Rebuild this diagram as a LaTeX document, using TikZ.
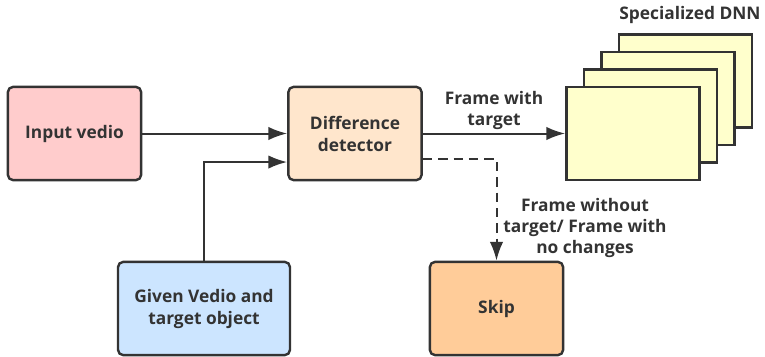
\documentclass[tikz,border=0pt]{standalone}
\usepackage{fontspec}
\setmainfont{Open Sans}
\usetikzlibrary{arrows.meta}
\usetikzlibrary{calc}

\definecolor{linegray}{HTML}{333333}
\definecolor{pinkfill}{HTML}{FFCCCC}
\definecolor{peachfill}{HTML}{FFE6CC}
\definecolor{yellowfill}{HTML}{FFFFCC}
\definecolor{bluefill}{HTML}{CCE5FF}
\definecolor{orangefill}{HTML}{FFCC99}

\tikzset{
	box/.style={draw=linegray,line width=1.8pt,rounded corners=4pt,minimum width=100pt,minimum height=70pt,align=center,text=linegray},
	dnnbox/.style={draw=linegray,line width=1.8pt,fill=yellowfill,minimum width=100pt,minimum height=70pt},
	lbl/.style={text=linegray,align=center,font=\fontsize{13}{16}\selectfont\bfseries}
}

\begin{document}
\begin{tikzpicture}[x=0.75pt,y=-0.75pt,>/.tip={Latex[length=14pt,width=10pt]},font=\fontsize{13}{16.5}\selectfont\bfseries]
	\useasboundingbox (0,0) rectangle (765,357);

	\draw (74.5,133.5) node (input) [box,fill=pinkfill] {Input vedio};
	\draw (355,133.5) node (diff) [box,fill=peachfill] {Difference\\detector};
	\draw (204,308.5) node (given) [box,fill=bluefill,minimum width=129pt] {Given Vedio and\\target object};
	\draw (496.5,308.5) node (skip) [box,fill=orangefill] {Skip};

	% stacked DNN frames, back to front
	\draw (685.5,81) node (dnn3) [dnnbox] {};
	\draw (668,98.5) node (dnn2) [dnnbox] {};
	\draw (650.5,116) node (dnn1) [dnnbox] {};
	\draw (633,133.5) node (dnn) [dnnbox] {};
	\node [lbl] at (690,15) {Specialized DNN};

	\draw[->,line width=1.5pt,linegray] (input) -- (diff);
	\draw[->,line width=1.5pt,linegray] (given.north) |- ([yshift=-21.4pt]diff.west);
	\draw[->,line width=1.5pt,linegray] (diff) -- node [lbl,above,inner sep=2pt] {Frame with\\target} (dnn);
	\draw[->,line width=1.5pt,linegray,dash pattern=on 7pt off 4.5pt] ([yshift=-19.1pt]diff.east) -| (skip.north);
	\node [lbl] at (585,228) {Frame without\\target/ Frame with\\no changes};
\end{tikzpicture}
\end{document}
